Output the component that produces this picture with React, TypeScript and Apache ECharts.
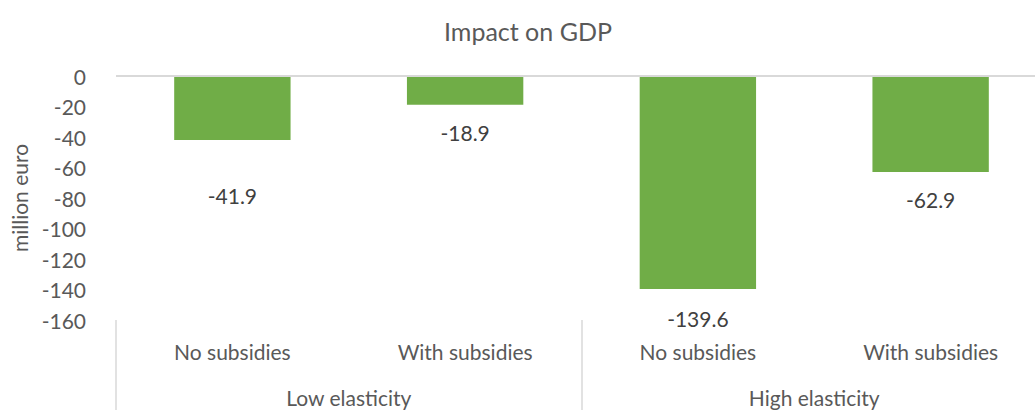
import React, { useEffect, useRef } from "react";
import * as echarts from "echarts";

const categories = ["No subsidies", "With subsidies", "No subsidies", "With subsidies"];
const groups = ["Low elasticity", "High elasticity"];
const values = [-41.9, -18.9, -139.6, -62.9];
const labelDistances = [45, 17, 19, 17];

const FONT = "Lato";
const GREY = "#595959";
const LINE = "#D9D9D9";
const GREEN = "#70AD47";

export default function App() {
  const ref = useRef<HTMLDivElement>(null);
  useEffect(() => {
    if (!ref.current) return;
    const chart = echarts.init(ref.current, undefined, { renderer: "svg" });
    chart.setOption({
      animation: false,
      title: {
        text: "Impact on GDP",
        left: 439,
        top: 13,
        textStyle: { fontFamily: FONT, fontSize: 25, fontWeight: "normal", color: GREY },
      },
      grid: {
        left: 116,
        width: 931,
        top: 76,
        bottom: 90,
        containLabel: false,
        outerBoundsMode: "none",
      },
      xAxis: [
        {
          type: "category",
          data: categories,
          position: "bottom",
          axisLine: { show: false },
          axisTick: { show: false },
          axisLabel: { fontFamily: FONT, fontSize: 21, color: GREY, margin: 21, interval: 0 },
        },
        {
          type: "category",
          data: groups,
          position: "bottom",
          axisLine: { show: false },
          axisTick: { show: true, length: 90, lineStyle: { color: LINE, width: 1.5 } },
          axisLabel: { fontFamily: FONT, fontSize: 21, color: GREY, margin: 67, interval: 0 },
        },
      ],
      yAxis: {
        type: "value",
        min: -160,
        max: 0,
        interval: 20,
        name: "million euro",
        nameLocation: "middle",
        nameGap: 86,
        nameTextStyle: { fontFamily: FONT, fontSize: 21, color: GREY },
        axisLine: { show: false },
        axisTick: { show: false },
        splitLine: { show: false },
        axisLabel: { fontFamily: FONT, fontSize: 21, color: GREY, margin: 30 },
      },
      series: [
        {
          type: "bar",
          xAxisIndex: 0,
          data: values.map((v, i) => ({
            value: v,
            label: { distance: labelDistances[i] },
          })),
          barWidth: "50%",
          itemStyle: { color: GREEN },
          label: {
            show: true,
            position: "bottom",
            fontFamily: FONT,
            fontSize: 21,
            color: "#404040",
            formatter: (p: any) => p.value.toFixed(1),
          },
          markLine: {
            silent: true,
            symbol: "none",
            label: { show: false },
            lineStyle: { color: LINE, width: 2, type: "solid" },
            data: [{ yAxis: 0 }],
          },
        },
      ],
    });
    return () => chart.dispose();
  }, []);
  return (
    <div
      ref={ref}
      style={{ position: "fixed", left: 0, top: 0, width: 1035, height: 410, background: "#fff" }}
    />
  );
}
